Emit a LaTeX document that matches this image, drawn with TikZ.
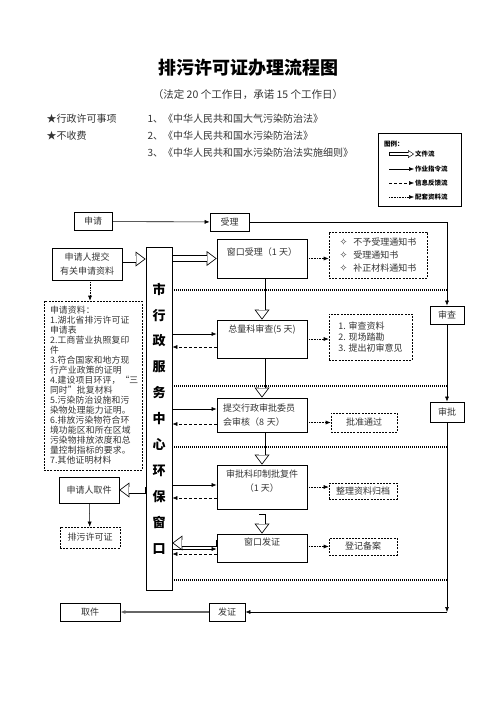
\documentclass[tikz,border=0pt]{standalone}
\usepackage{fontspec}
\setmainfont{Noto Sans CJK SC}
\newfontfamily\symfont{DejaVu Sans}
\newfontfamily\docfont{Noto Sans CJK SC}[LetterSpace=2]
\usetikzlibrary{arrows.meta,positioning,calc}

\tikzset{
  box/.style={draw, line width=0.7pt, inner sep=2pt, text=black!80, font=\fontsize{9}{11}\selectfont},
  dbox/.style={box, dash pattern=on 2pt off 1.2pt, line width=0.6pt},
  cmd/.style={-{Latex[length=5pt,width=4pt]}, line width=0.6pt},
  back/.style={cmd, dash pattern=on 3pt off 2pt},
  aux/.style={cmd, densely dotted},
  sepline/.style={line width=1.2pt, dash pattern=on 1pt off 1pt},
  fileflow/.style={line width=7pt, -{Triangle[length=10pt,width=15pt,line width=0pt]},
    postaction={draw=white, line width=5.4pt, shorten <=0.8pt, shorten >=1.33pt,
      -{Triangle[length=7.87pt,width=11.8pt,line width=0pt]}}},
  smallfile/.style={line width=4pt, -{Triangle[length=6pt,width=8pt,line width=0pt]},
    postaction={draw=white, line width=2.8pt, shorten <=0.6pt, shorten >=1.08pt,
      -{Triangle[length=4.32pt,width=5.76pt,line width=0pt]}}},
  lgtext/.style={anchor=west, inner sep=1pt, font=\bfseries\fontsize{6.5}{7}\selectfont},
  headtext/.style={anchor=north, inner sep=2pt, text=black!80, font=\fontsize{9}{14}\selectfont, align=center}
}
\newcommand{\dia}{{\symfont\fontsize{9.5}{13}\selectfont ✧}\hspace{6pt}}

\begin{document}
\begin{tikzpicture}[x=1pt,y=-1pt,every node/.style={font=\fontsize{10}{12}\selectfont}]
\useasboundingbox (0,0) rectangle (496,702);
% heading
\node[font=\bfseries\fontsize{18}{20}\selectfont] (title) at (248,68) {排污许可证办理流程图};
\node[text=black!80,font=\fontsize{10.5}{12}\selectfont] (days) at (248,95) {（法定 20 个工作日，承诺 15 个工作日）};
\node[anchor=west,text=black!80] (item1) at (43,119) {★行政许可事项};
\node[anchor=west,text=black!80] (item2) at (43,136) {★不收费};
\node[anchor=west,text=black!80] (law1) at (144,119) {1、《中华人民共和国大气污染防治法》};
\node[anchor=west,text=black!80] (law2) at (144,136) {2、《中华人民共和国水污染防治法》};
\node[anchor=west,text=black!80] (law3) at (144,153) {3、《中华人民共和国水污染防治法实施细则》};
% legend
\node[draw, line width=0.8pt, minimum width=83pt, minimum height=73pt] (legend) at (419.5,169.5) {};
\node[lgtext] (lgtitle) at (383,144) {图例：};
\node[lgtext] (lg1) at (414,154) {文件流};
\node[lgtext] (lg2) at (414,169) {作业指令流};
\node[lgtext] (lg3) at (414,183) {信息反馈流};
\node[lgtext] (lg4) at (414,197) {配套资料流};
\draw[smallfile] ([xshift=-25pt]lg1.west) -- (lg1.west);
\draw[cmd, line width=0.5pt] ([xshift=-25pt]lg2.west) -- (lg2.west);
\draw[back, line width=0.5pt] ([xshift=-25pt]lg3.west) -- (lg3.west);
\draw[aux, line width=0.5pt] ([xshift=-25pt]lg4.west) -- (lg4.west);
% outer loop
\node[box, minimum width=38pt, minimum height=18pt] (apply) at (93,221.5) {申请};
\node[box, minimum width=39pt, minimum height=18pt] (receive) at (229.5,222) {受理};
\node[box, minimum width=34pt, minimum height=18pt] (review) at (447,315) {审查};
\node[box, minimum width=34pt, minimum height=20pt] (approve) at (447,412) {审批};
\node[box, minimum width=36pt, minimum height=18pt] (issue) at (227,612) {发证};
\node[box, minimum width=60pt, minimum height=18pt] (fetch) at (90,612) {取件};
\coordinate (turn) at (approve |- issue);
\draw[cmd] (apply) -- (receive);
\draw[cmd] (receive) -| (review);
\draw[cmd] (review) -- (approve);
\draw[cmd] (approve) -- (turn);
\draw[cmd] (turn) -- (issue);
\draw[cmd, black!60, line width=1.2pt] (issue) -- (fetch);
% applicant side
\node[box, align=center, minimum width=70pt, minimum height=32pt, font=\fontsize{9}{14}\selectfont] (submit) at (87,264) {申请人提交\\有关申请资料};
\node[dbox, align=left, minimum width=98pt, minimum height=169pt, text width=86pt, font=\docfont\fontsize{8.8}{10}\selectfont] (docs) at (93,385.5)
  {申请资料：\\1.湖北省排污许可证\\申请表\\2.工商营业执照复印\\件\\3.符合国家和地方现\\行产业政策的证明\\4.建设项目环评，“三\\同时”批复材料\\5.污染防治设施和污\\染物处理能力证明。\\6.排放污染物符合环\\境功能区和所在区域\\污染物排放浓度和总\\量控制指标的要求。\\7.其他证明材料};
\node[box, minimum width=60pt, minimum height=26pt] (pickup) at (89,490) {申请人取件};
\node[dbox, minimum width=60pt, minimum height=21pt] (permit) at (90,537.5) {排污许可证};
% service window
\node[draw, line width=0.7pt, minimum width=26pt, minimum height=343pt, align=center,
  font=\bfseries\fontsize{13}{25.9}\selectfont] (window) at (159,418.5) {市\\行\\政\\服\\务\\中\\心\\环\\保\\窗\\口};
% steps
\node[box, minimum width=90pt, minimum height=39pt, label={[headtext, yshift=-6.5pt]north:窗口受理（1 天）}] (counter) at (262,258.5) {};
\node[box, minimum width=90pt, minimum height=38pt, label={[headtext, yshift=-3.5pt]north:总量科审查(5 天)}] (quota) at (262,339) {};
\node[box, minimum width=90pt, minimum height=34pt, align=left, text width=78pt, font=\fontsize{9}{14}\selectfont] (committee) at (262,415) {提交行政审批委员\\会审核（8 天）};
\node[box, minimum width=90pt, minimum height=44pt, label={[headtext, yshift=-3.5pt]north:审批科印制批复件\\（1 天）}] (print) at (262,487) {};
\node[box, minimum width=90pt, minimum height=28pt, label={[headtext, yshift=-2.5pt]north:窗口发证}] (hand) at (262,548) {};
% side results
\node[dbox, minimum width=98pt, minimum height=46pt, align=left, font=\fontsize{9}{13}\selectfont] (notices) at (378,255)
  {\dia 不予受理通知书\\\dia 受理通知书\\\dia 补正材料通知书};
\node[dbox, minimum width=83pt, minimum height=46pt, align=left] (checks) at (370.5,337) {1. 审查资料\\2. 现场踏勘\\3. 提出初审意见};
\node[dbox, minimum width=66pt, minimum height=19pt] (passed) at (364,422.5) {批准通过};
\node[dbox, minimum width=68pt, minimum height=16pt] (archive) at (363,491) {整理资料归档};
\node[dbox, minimum width=68pt, minimum height=17pt] (record) at (363,546.5) {登记备案};
% file flow
\draw[fileflow] ([yshift=5pt]submit.east) -- ([yshift=5pt]submit.east -| window.west);
\draw[fileflow] (window.east |- counter.west) -- (counter.west);
\draw[fileflow] (counter) -- (quota);
\draw[fileflow] (quota) -- (committee);
\draw[fileflow] (committee) -- (print);
\draw[fileflow] ([yshift=-5pt]print.south) -- (hand.north);
\draw[fileflow] ([yshift=5pt]hand.west) -- ([yshift=5pt]hand.west -| window.east);
\draw[fileflow] (window.west |- pickup.east) -- (pickup.east);
% instructions and feedback
\draw[cmd] ([yshift=5pt]quota.west -| window.east) -- ([yshift=5pt]quota.west);
\draw[back] ([yshift=-8pt]quota.west) -- ([yshift=-8pt]quota.west -| window.east);
\draw[cmd] ([yshift=6pt]committee.west -| window.east) -- ([yshift=6pt]committee.west);
\draw[back] ([yshift=-9pt]committee.west) -- ([yshift=-9pt]committee.west -| window.east);
\draw[cmd] ([yshift=2pt]print.west -| window.east) -- ([yshift=2pt]print.west);
\draw[back] ([yshift=-11pt]print.west) -- ([yshift=-11pt]print.west -| window.east);
\draw[cmd] ([yshift=-1pt]hand.west -| window.east) -- ([yshift=-1pt]hand.west);
\draw[back] ([yshift=-6pt]hand.west) -- ([yshift=-6pt]hand.west -| window.east);
% materials
\draw[aux] ([xshift=3pt]submit.south) -- ([xshift=3pt]submit.south |- docs.north);
\draw[cmd, line width=0.5pt] (pickup) -- (permit);
\draw[aux] (counter.east) -- (counter.east -| notices.west);
\draw[aux] (quota.east) -- (quota.east -| checks.west);
\draw[aux] (committee.east |- passed.west) -- (passed.west);
\draw[aux] (print.east) -- (print.east -| archive.west);
\draw[aux] (hand.east |- record.west) -- (record.west);
% stage separators
\foreach \y in {290,386,447,580}
  \draw[sepline] (172,\y) -- (447,\y);
\end{tikzpicture}
\end{document}
